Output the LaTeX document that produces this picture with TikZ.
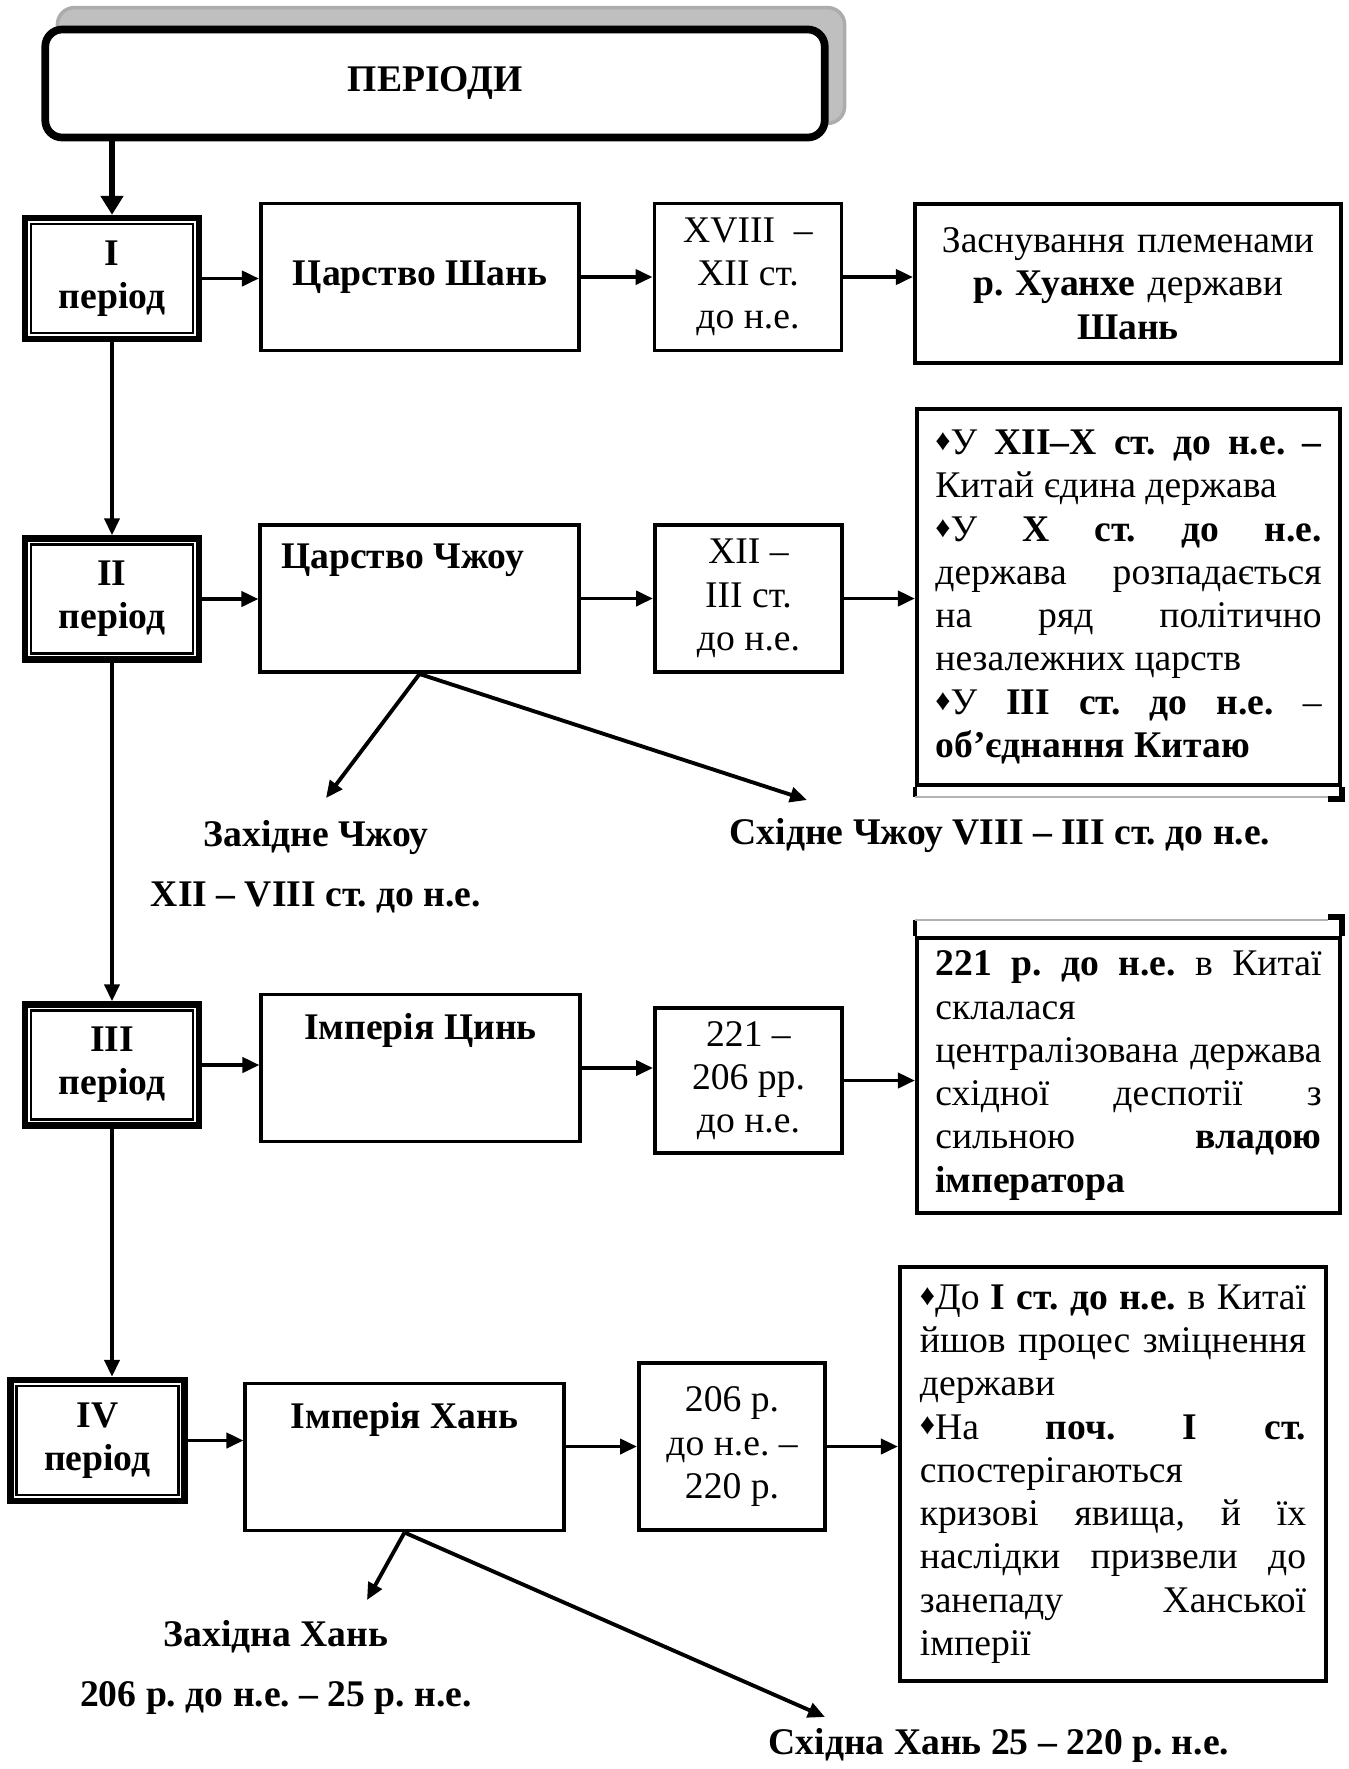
\documentclass[tikz,border=0pt]{standalone}
\usepackage{fontspec}
\setmainfont{Liberation Serif}
\usetikzlibrary{arrows.meta,backgrounds}
\newcommand{\bulletd}{{\fontsize{8.5}{8}\selectfont\raisebox{0.3ex}{♦}}}

\begin{document}
\fontsize{10.7}{12.3}\selectfont\frenchspacing
\begin{tikzpicture}[x=0.01cm,y=-0.01cm,
    box/.style={draw,line width=1.1pt,inner sep=0pt,align=center},
    title/.style={draw,fill=white,line width=2.2pt,rounded corners=0.17cm,minimum width=7.79cm,minimum height=1.08cm,font=\bfseries},
    period/.style={draw,line width=1.8pt,minimum width=1.74cm,minimum height=1.21cm,align=center,font=\bfseries,
      path picture={\draw[line width=0.6pt] ([shift={(6,6)}]path picture bounding box.north west) rectangle ([shift={(-6,-6)}]path picture bounding box.south east);}},
    state/.style={box,minimum width=3.18cm,minimum height=1.47cm},
    dates/.style={box,minimum width=1.87cm,minimum height=1.47cm},
    info/.style={box,minimum width=4.23cm,text width=3.86cm,align=justify},
    lbl/.style={font=\bfseries},
    link/.style={line width=1.1pt,-{Triangle[length=0.17cm,width=0.15cm]}}]
  \useasboundingbox (0,0) rectangle (1349,1769);

  % title
  \node[title] (T) at (435,83.5) {ПЕРІОДИ};
  \begin{scope}[on background layer]
    \filldraw[fill=gray!50,draw=gray!65,line width=1pt,rounded corners=0.17cm]
      ([shift={(16,-18)}]T.south west) rectangle ([shift={(16,-18)}]T.north east);
  \end{scope}

  % periods
  \node[period] (P1) at (112,278.5) {I\\період};
  \node[period] (P2) at (112,599) {II\\період};
  \node[period] (P3) at (112,1065) {III\\період};
  \node[period] (P4) at (97.5,1440.5) {IV\\період};

  % I
  \node[state,font=\bfseries] (S1) at (420,277) {Царство Шань};
  \node[dates] (D1) at (748,277) {XVIII~ –\\XII ст.\\до н.е.};
  \node[box,minimum width=4.26cm,minimum height=1.59cm,text width=3.86cm] (E1) at (1128,283.5)
    {Заснування племенами\\\textbf{р. Хуанхе} держави\\\textbf{Шань}};

  % II
  \node[state,label={[lbl,anchor=north,xshift=-0.17cm,yshift=-0.08cm]north:Царство Чжоу}] (S2) at (419.5,598.5) {};
  \node[dates] (D2) at (748.5,598.5) {XII –\\III ст.\\до н.е.};
  \node[info,minimum height=3.76cm] (E2) at (1128.5,597)
    {\bulletd У \textbf{XII–X ст. до н.е. –}\linebreak Китай єдина держава\\
     \bulletd У \textbf{X ст. до н.е.}\linebreak держава розпадається\linebreak на ряд політично\linebreak незалежних царств\\
     \bulletd У \textbf{III ст. до н.е.} –\linebreak \textbf{об’єднання Китаю}};

  % III
  \node[state,label={[lbl,anchor=north,yshift=-0.08cm]north:Імперія Цинь}] (S3) at (420.5,1068) {};
  \node[dates,minimum height=1.45cm] (D3) at (748.5,1080.5) {221 –\\206 рр.\\до н.е.};
  \node[info,minimum height=2.75cm] (E3) at (1128.5,1075.5)
    {\textbf{221 р. до н.е.} в Китаї\linebreak склалася\\
     централізована держава\linebreak східної деспотії з\linebreak сильною \textbf{владою}\linebreak \textbf{імператора}};

  % IV
  \node[state,label={[lbl,anchor=north,yshift=-0.08cm]north:Імперія Хань}] (S4) at (404.5,1457) {};
  \node[dates,minimum width=1.86cm,minimum height=1.67cm] (D4) at (732,1446.5) {206 р.\\до н.е. –\\220 р.};
  \node[info,minimum width=4.26cm,minimum height=4.14cm] (E4) at (1113,1474)
    {\bulletd До \textbf{I ст. до н.е.} в Китаї\linebreak йшов процес зміцнення\linebreak держави\\
     \bulletd На \textbf{поч. I ст.}\linebreak спостерігаються\\
     кризові явища, й їх\linebreak наслідки призвели до\linebreak занепаду Ханської\linebreak імперії};

  % branches
  \node[lbl] (WZ) at (316,837) {Західне Чжоу};
  \node[lbl] (WZd) at (316,897) {XII – VIII ст. до н.е.};
  \node[lbl] (EZ) at (1000,835) {Східне Чжоу VIII – III ст. до н.е.};
  \node[lbl] (WH) at (276,1637) {Західна Хань};
  \node[lbl] (WHd) at (276,1698) {206 р. до н.е. – 25 р. н.е.};
  \node[lbl] (EH) at (999,1745) {Східна Хань 25 – 220 р. н.е.};
  \coordinate (wz) at (326,798);
  \coordinate (ez) at (807,800);
  \coordinate (wh) at (367,1600);
  \coordinate (eh) at (825,1717);

  % connectors
  \draw[line width=1.9pt,-{Triangle[length=0.19cm,width=0.22cm]}] (T.south -| P1.north) -- (P1.north);
  \draw[link] (P1.south) -- (P2.north);
  \draw[link] (P2.south) -- (P3.north);
  \draw[link] (P3.south) -- (P3.south |- P4.north);

  \draw[link] (P1.east) -- (P1.east -| S1.west);
  \draw[link] (S1.east) -- (S1.east -| D1.west);
  \draw[link] (D1.east) -- (D1.east -| E1.west);

  \draw[link] (P2.east) -- (P2.east -| S2.west);
  \draw[link] (S2.east) -- (S2.east -| D2.west);
  \draw[link] (D2.east) -- (D2.east -| E2.west);

  \draw[link] (P3.east) -- (P3.east -| S3.west);
  \draw[link] (S3.east) -- (S3.east -| D3.west);
  \draw[link] (D3.east) -- (D3.east -| E3.west);

  \draw[link] (P4.east) -- (P4.east -| S4.west);
  \draw[link] (D4.west -| S4.east) -- (D4.west);
  \draw[link] (D4.east) -- (D4.east -| E4.west);

  \draw[link] (S2.south) -- (wz);
  \draw[link] (S2.south) -- (ez);
  \draw[link] (S4.south) -- (wh);
  \draw[link] (S4.south) -- (eh);

  % loose frame lines
  \draw[line width=1.1pt] (E2.south west) -- ++(0,10);
  \draw[gray!60,line width=0.6pt] ([yshift=-0.1cm]E2.south west) -- ([xshift=-0.14cm,yshift=-0.1cm]E2.south east);
  \draw[line width=1.6pt] ([xshift=-0.14cm,yshift=-0.12cm]E2.south east) -- ([yshift=-0.12cm]E2.south east) -- (E2.south east);
  \draw[line width=1.1pt] (E3.north west) -- ++(0,-16);
  \draw[gray!60,line width=0.6pt] ([yshift=0.16cm]E3.north west) -- ([xshift=-0.14cm,yshift=0.16cm]E3.north east);
  \draw[line width=1.6pt] ([xshift=-0.14cm,yshift=0.19cm]E3.north east) -- ([yshift=0.19cm]E3.north east) -- (E3.north east);
\end{tikzpicture}
\end{document}
